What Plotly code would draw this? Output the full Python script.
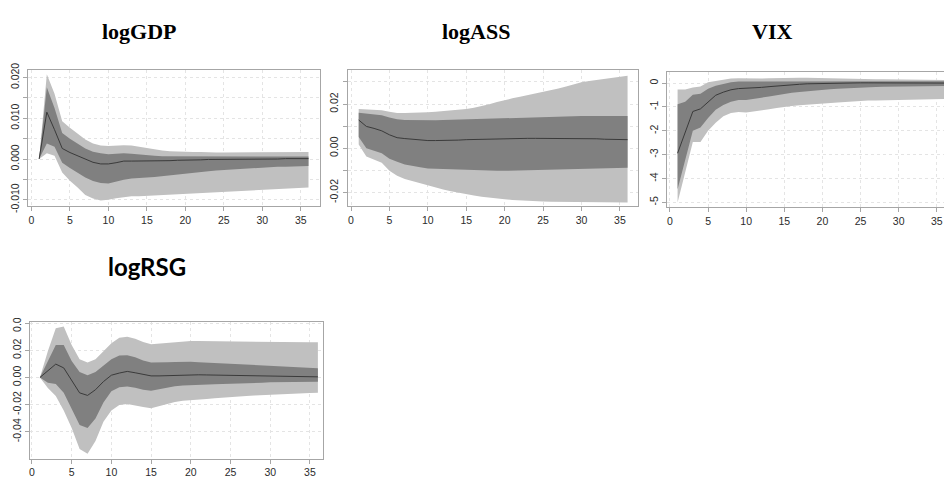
import plotly.graph_objects as go

# Impulse-response horizons
horizon = list(range(1, 37))

# logGDP: median response with 68% (inner) and 95% (outer) bands
gdp_med = [0, 0.0115, 0.0072, 0.0026, 0.0016, 0.0008, 0.0001, -0.0008, -0.0012, -0.0012,
           -0.0009, -0.0005, -0.0005, -0.0005, -0.0005, -0.0005, -0.0004, -0.0004, -0.0003, -0.0003,
           -0.0002, -0.0002, -0.0001, -0.0001, -0.0001, -0.0001, -0.0001, 0, 0, 0,
           0, 0, 0.0001, 0.0001, 0.0001, 0.0001]
gdp_in_up = [0, 0.0176, 0.0125, 0.0064, 0.0050, 0.0038, 0.0026, 0.0018, 0.0014, 0.0012,
             0.0013, 0.0014, 0.0013, 0.0011, 0.0009, 0.0008, 0.0007, 0.0007, 0.0006, 0.0006,
             0.0006, 0.0006, 0.0006, 0.0006, 0.0006, 0.0006, 0.0006, 0.0006, 0.0006, 0.0006,
             0.0006, 0.0006, 0.0006, 0.0006, 0.0006, 0.0006]
gdp_out_up = [0, 0.0208, 0.0160, 0.0093, 0.0077, 0.0062, 0.0048, 0.0038, 0.0033, 0.0032,
              0.0033, 0.0034, 0.0033, 0.0030, 0.0026, 0.0023, 0.0021, 0.0019, 0.0018, 0.0017,
              0.0017, 0.0017, 0.0016, 0.0016, 0.0016, 0.0016, 0.0016, 0.0016, 0.0016, 0.0016,
              0.0016, 0.0016, 0.0017, 0.0017, 0.0017, 0.0017]
gdp_in_lo = [0, 0.0038, 0.0030, -0.0009, -0.0022, -0.0034, -0.0045, -0.0054, -0.0059, -0.0060,
             -0.0056, -0.0051, -0.0048, -0.0046, -0.0045, -0.0044, -0.0043, -0.0041, -0.0039, -0.0036,
             -0.0034, -0.0032, -0.0030, -0.0028, -0.0026, -0.0025, -0.0024, -0.0023, -0.0022, -0.0021,
             -0.0020, -0.0019, -0.0019, -0.0018, -0.0018, -0.0017]
gdp_out_lo = [0, 0.0014, 0.0008, -0.0033, -0.0053, -0.0070, -0.0088, -0.0097, -0.0102, -0.0100,
              -0.0096, -0.0093, -0.0091, -0.0091, -0.0090, -0.0090, -0.0089, -0.0088, -0.0087, -0.0086,
              -0.0085, -0.0084, -0.0083, -0.0082, -0.0081, -0.0080, -0.0079, -0.0078, -0.0077, -0.0076,
              -0.0075, -0.0074, -0.0073, -0.0072, -0.0071, -0.0070]

# logASS
ass_med = [0.0128, 0.0099, 0.0090, 0.0079, 0.0061, 0.0048, 0.0044, 0.0040, 0.0037, 0.0035,
           0.0035, 0.0035, 0.0036, 0.0037, 0.0039, 0.0040, 0.0041, 0.0042, 0.0044, 0.0045,
           0.0045, 0.0045, 0.0045, 0.0045, 0.0045, 0.0045, 0.0045, 0.0045, 0.0044, 0.0044,
           0.0044, 0.0043, 0.0041, 0.0040, 0.0039, 0.0039]
ass_in_up = [0.0161, 0.0157, 0.0155, 0.0149, 0.0139, 0.0131, 0.0128, 0.0127, 0.0127, 0.0127,
             0.0127, 0.0128, 0.0129, 0.0130, 0.0131, 0.0133, 0.0134, 0.0136, 0.0137, 0.0139,
             0.0139, 0.0140, 0.0141, 0.0142, 0.0143, 0.0144, 0.0145, 0.0145, 0.0146, 0.0146,
             0.0146, 0.0146, 0.0146, 0.0146, 0.0146, 0.0146]
ass_out_up = [0.0178, 0.0176, 0.0175, 0.0172, 0.0165, 0.0160, 0.0160, 0.0160, 0.0161, 0.0163,
              0.0165, 0.0168, 0.0171, 0.0174, 0.0178, 0.0184, 0.0190, 0.0199, 0.0209, 0.0219,
              0.0226, 0.0233, 0.0240, 0.0247, 0.0255, 0.0263, 0.0271, 0.0280, 0.0290, 0.0299,
              0.0305, 0.0310, 0.0314, 0.0321, 0.0325, 0.0328]
ass_in_lo = [0.0051, 0.0000, -0.0012, -0.0022, -0.0047, -0.0061, -0.0073, -0.0080, -0.0086, -0.0091,
             -0.0094, -0.0096, -0.0097, -0.0098, -0.0099, -0.0100, -0.0101, -0.0101, -0.0102, -0.0102,
             -0.0101, -0.0100, -0.0100, -0.0099, -0.0098, -0.0097, -0.0097, -0.0096, -0.0096, -0.0095,
             -0.0094, -0.0093, -0.0092, -0.0090, -0.0089, -0.0088]
ass_out_lo = [0.0017, -0.0037, -0.0050, -0.0066, -0.0102, -0.0124, -0.0139, -0.0149, -0.0159, -0.0168,
              -0.0177, -0.0186, -0.0194, -0.0201, -0.0208, -0.0214, -0.0219, -0.0224, -0.0228, -0.0231,
              -0.0234, -0.0236, -0.0238, -0.0240, -0.0241, -0.0242, -0.0243, -0.0244, -0.0245, -0.0245,
              -0.0245, -0.0245, -0.0245, -0.0245, -0.0245, -0.0245]

# VIX
vix_med = [-2.94, -2.05, -1.19, -1.08, -0.78, -0.51, -0.38, -0.28, -0.23, -0.22,
           -0.20, -0.18, -0.15, -0.12, -0.08, -0.06, -0.05, -0.03, -0.02, -0.01,
           -0.01, 0, 0, 0, 0.01, 0.01, 0.01, 0.01, 0.01, 0.01,
           0.01, 0.01, 0, 0, 0, 0]
vix_in_up = [-0.89, -0.78, -0.49, -0.45, -0.24, -0.11, -0.04, 0.04, 0.07, 0.07,
             0.07, 0.08, 0.08, 0.09, 0.09, 0.09, 0.09, 0.09, 0.09, 0.09,
             0.09, 0.09, 0.08, 0.08, 0.08, 0.08, 0.08, 0.08, 0.08, 0.08,
             0.08, 0.08, 0.08, 0.08, 0.08, 0.08]
vix_out_up = [-0.27, -0.27, -0.18, -0.14, 0.03, 0.09, 0.15, 0.19, 0.20, 0.19,
              0.19, 0.19, 0.20, 0.21, 0.23, 0.23, 0.22, 0.22, 0.21, 0.20,
              0.20, 0.19, 0.19, 0.18, 0.17, 0.17, 0.16, 0.16, 0.16, 0.15,
              0.15, 0.14, 0.14, 0.13, 0.13, 0.13]
vix_in_lo = [-4.45, -3.20, -2.00, -1.86, -1.46, -1.12, -0.92, -0.78, -0.71, -0.71,
             -0.66, -0.61, -0.56, -0.50, -0.45, -0.41, -0.37, -0.34, -0.31, -0.28,
             -0.26, -0.24, -0.22, -0.20, -0.18, -0.17, -0.16, -0.15, -0.14, -0.13,
             -0.13, -0.12, -0.12, -0.12, -0.12, -0.12]
vix_out_lo = [-5.00, -3.70, -2.47, -2.47, -2.00, -1.66, -1.39, -1.25, -1.21, -1.23,
              -1.19, -1.15, -1.10, -1.04, -0.99, -0.96, -0.93, -0.91, -0.88, -0.85,
              -0.83, -0.81, -0.79, -0.77, -0.74, -0.73, -0.73, -0.72, -0.72, -0.72,
              -0.71, -0.70, -0.69, -0.68, -0.68, -0.67]

# logRSG
rsg_med = [0, 0.0047, 0.0099, 0.0071, -0.0019, -0.0113, -0.0132, -0.0090, -0.0030, 0.0017,
           0.0033, 0.0045, 0.0035, 0.0022, 0.0012, 0.0012, 0.0014, 0.0017, 0.0019, 0.0021,
           0.0020, 0.0019, 0.0018, 0.0017, 0.0017, 0.0016, 0.0015, 0.0014, 0.0013, 0.0012,
           0.0010, 0.0008, 0.0007, 0.0006, 0.0005, 0.0005]
rsg_in_up = [0, 0.0122, 0.0240, 0.0240, 0.0122, 0.0040, 0.0017, 0.0040, 0.0087, 0.0135,
             0.0163, 0.0165, 0.0150, 0.0125, 0.0111, 0.0110, 0.0112, 0.0114, 0.0116, 0.0116,
             0.0113, 0.0110, 0.0107, 0.0103, 0.0099, 0.0096, 0.0093, 0.0090, 0.0086, 0.0083,
             0.0080, 0.0077, 0.0075, 0.0072, 0.0070, 0.0069]
rsg_out_up = [0, 0.0194, 0.0364, 0.0376, 0.0240, 0.0135, 0.0111, 0.0135, 0.0194, 0.0253,
              0.0293, 0.0300, 0.0285, 0.0262, 0.0246, 0.0250, 0.0257, 0.0263, 0.0267, 0.0269,
              0.0269, 0.0268, 0.0267, 0.0266, 0.0265, 0.0264, 0.0263, 0.0262, 0.0261, 0.0260,
              0.0260, 0.0260, 0.0260, 0.0260, 0.0260, 0.0260]
rsg_in_lo = [0, -0.0038, -0.0047, -0.0113, -0.0232, -0.0350, -0.0373, -0.0303, -0.0184, -0.0102,
             -0.0071, -0.0066, -0.0075, -0.0090, -0.0097, -0.0090, -0.0075, -0.0065, -0.0058, -0.0054,
             -0.0052, -0.0050, -0.0049, -0.0048, -0.0047, -0.0045, -0.0043, -0.0041, -0.0038, -0.0035,
             -0.0034, -0.0033, -0.0032, -0.0032, -0.0031, -0.0031]
rsg_out_lo = [0, -0.0078, -0.0137, -0.0243, -0.0373, -0.0527, -0.0562, -0.0468, -0.0326, -0.0243,
              -0.0203, -0.0196, -0.0205, -0.0218, -0.0227, -0.0215, -0.0195, -0.0180, -0.0172, -0.0166,
              -0.0162, -0.0158, -0.0153, -0.0148, -0.0142, -0.0139, -0.0136, -0.0133, -0.0129, -0.0125,
              -0.0122, -0.0120, -0.0118, -0.0116, -0.0114, -0.0113]

x_ticks = [0, 5, 10, 15, 20, 25, 30, 35]
gdp_ticks = [-0.010, -0.005, 0.000, 0.005, 0.010, 0.015, 0.020]
gdp_labels = ["-0.010", "", "0.000", "", "0.010", "", "0.020"]
ass_ticks = [-0.02, -0.01, 0.00, 0.01, 0.02, 0.03]
ass_labels = ["-0.02", "", "0.00", "", "0.02", ""]
vix_ticks = [-5, -4, -3, -2, -1, 0]
vix_labels = ["-5", "-4", "-3", "-2", "-1", "0"]
rsg_ticks = [-0.04, -0.02, 0.00, 0.02, 0.04]
rsg_labels = ["-0.04", "-0.02", "0.00", "0.02", "0.04"]

W, H = 944, 490
OUTER = "#c0c0c0"
INNER = "#808080"
MEDIAN = "#3a3a3a"
FRAME = "#a6a6a6"
GRID = "#e4e4e4"
TICKFONT = dict(family="Liberation Sans, Arial, sans-serif", size=10.5, color="#2b2b2b")

# panel boxes in pixels: (left, right, top, bottom), x range, y range
panels = [
    dict(name="1", box=(27, 319, 62, 203), xr=(-0.45, 37.45), yr=(-0.01151, 0.02188),
         med=gdp_med, iu=gdp_in_up, ou=gdp_out_up, il=gdp_in_lo, ol=gdp_out_lo,
         yt=gdp_ticks, yl=gdp_labels, right_open=False),
    dict(name="2", box=(347, 638, 62, 203), xr=(-0.44, 37.4), yr=(-0.0261, 0.0355),
         med=ass_med, iu=ass_in_up, ou=ass_out_up, il=ass_in_lo, ol=ass_out_lo,
         yt=ass_ticks, yl=ass_labels, right_open=False),
    dict(name="3", box=(667, 944, 64, 204), xr=(-0.35, 35.95), yr=(-5.19, 0.474),
         med=vix_med, iu=vix_in_up, ou=vix_out_up, il=vix_in_lo, ol=vix_out_lo,
         yt=vix_ticks, yl=vix_labels, right_open=True),
    dict(name="4", box=(29, 322, 323, 465), xr=(-0.25, 36.6), yr=(-0.0600, 0.0411),
         med=rsg_med, iu=rsg_in_up, ou=rsg_out_up, il=rsg_in_lo, ol=rsg_out_lo,
         yt=rsg_ticks, yl=rsg_labels, right_open=False),
]

fig = go.Figure()
layout = dict(width=W, height=H, margin=dict(l=0, r=0, t=0, b=0),
              paper_bgcolor="white", plot_bgcolor="white", showlegend=False)
shapes = []

for p in panels:
    n = p["name"]
    xa = "x" if n == "1" else "x" + n
    ya = "y" if n == "1" else "y" + n
    xkey = "xaxis" if n == "1" else "xaxis" + n
    ykey = "yaxis" if n == "1" else "yaxis" + n
    l, r, t, b = p["box"]
    band_x = horizon + horizon[::-1]
    fig.add_trace(go.Scatter(x=band_x, y=p["ou"] + p["ol"][::-1], fill="toself",
                             fillcolor=OUTER, line=dict(width=0), mode="lines",
                             hoverinfo="skip", xaxis=xa, yaxis=ya))
    fig.add_trace(go.Scatter(x=band_x, y=p["iu"] + p["il"][::-1], fill="toself",
                             fillcolor=INNER, line=dict(width=0), mode="lines",
                             hoverinfo="skip", xaxis=xa, yaxis=ya))
    fig.add_trace(go.Scatter(x=horizon, y=p["med"], mode="lines",
                             line=dict(color=MEDIAN, width=1), xaxis=xa, yaxis=ya))
    layout[xkey] = dict(domain=[l / W, r / W], range=list(p["xr"]), anchor=ya,
                        tickmode="array", tickvals=x_ticks, ticktext=[str(v) for v in x_ticks],
                        ticks="outside", ticklen=4, tickcolor=FRAME, tickwidth=1,
                        showgrid=True, gridcolor=GRID, griddash="dot", gridwidth=1,
                        zeroline=False, showline=True, linecolor=FRAME,
                        linewidth=1, mirror=True, tickfont=TICKFONT, fixedrange=True)
    layout[ykey] = dict(domain=[1 - b / H, 1 - t / H], range=list(p["yr"]), anchor=xa,
                        tickmode="array", tickvals=p["yt"], ticktext=p["yl"],
                        ticks="outside", ticklen=4, tickcolor=FRAME, tickwidth=1,
                        showgrid=True, gridcolor=GRID, griddash="dot", gridwidth=1,
                        zeroline=False, showline=True, linecolor=FRAME,
                        linewidth=1, mirror=not p["right_open"], tickangle=-90,
                        tickfont=TICKFONT, fixedrange=True)

# white strip trimming the top of the logRSG panel's upper tick label
shapes.append(dict(type="rect", xref="paper", yref="paper", x0=0, x1=26 / W,
                   y0=1 - 319 / H, y1=1 - 290 / H, fillcolor="white",
                   line=dict(width=0), layer="above"))

layout["shapes"] = shapes
serif = dict(family="Liberation Serif, Times New Roman, serif", size=22, color="black")
sans = dict(family="Lato, Open Sans, sans-serif", size=24, color="black")
layout["annotations"] = [
    dict(text="<b>logGDP</b>", x=139 / W, y=1 - 22 / H, xref="paper", yref="paper",
         showarrow=False, font=serif, xanchor="center", yanchor="middle"),
    dict(text="<b>logASS</b>", x=476 / W, y=1 - 22 / H, xref="paper", yref="paper",
         showarrow=False, font=serif, xanchor="center", yanchor="middle"),
    dict(text="<b>VIX</b>", x=772 / W, y=1 - 22 / H, xref="paper", yref="paper",
         showarrow=False, font=serif, xanchor="center", yanchor="middle"),
    dict(text="<b>logRSG</b>", x=146 / W, y=1 - 266 / H, xref="paper", yref="paper",
         showarrow=False, font=sans, xanchor="center", yanchor="middle"),
]
fig.update_layout(**layout)
fig.write_html("out.html")
